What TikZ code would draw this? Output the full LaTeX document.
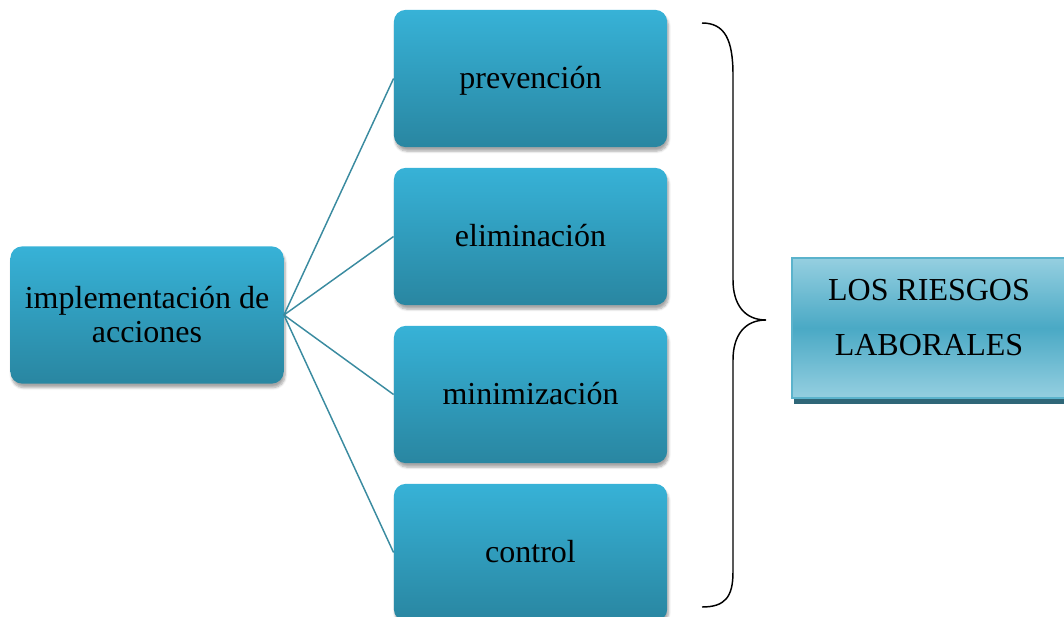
\documentclass[tikz,border=0pt]{standalone}
\usepackage{fontspec}
\setmainfont{Liberation Serif}
\usetikzlibrary{shadows,shadows.blur}

\definecolor{cajaarriba}{HTML}{37B2D7}
\definecolor{cajaabajo}{HTML}{2986A1}
\definecolor{rama}{HTML}{3A8BA0}
\definecolor{riesgoclaro}{HTML}{95CFE0}
\definecolor{riesgomedio}{HTML}{4AA9C5}
\definecolor{riesgoborde}{HTML}{5BB3CC}
\definecolor{riesgosombra}{HTML}{2F6778}

\begin{document}
\begin{tikzpicture}[x=0.75pt, y=-0.75pt]
	\tikzstyle{accion} = [ rectangle, rounded corners=9pt, minimum width=205pt, minimum height=103pt, top color=cajaarriba, bottom color=cajaabajo, align=center, font={\fontsize{24}{25.5}\selectfont}, blur shadow={shadow xshift=1pt, shadow yshift=-3pt, shadow blur steps=6, shadow opacity=35} ];
	\tikzstyle{paso} = [ accion, text height=17pt, text depth=2pt ];
	\tikzstyle{riesgo} = [ rectangle, draw=riesgoborde, line width=1.5pt, top color=riesgoclaro, bottom color=riesgoclaro, middle color=riesgomedio, minimum width=205pt, minimum height=105pt, align=center, font={\fontsize{24}{41}\selectfont}, drop shadow={shadow xshift=1.5pt, shadow yshift=-4.5pt, fill=riesgosombra, opacity=1} ];
	\tikzstyle{ramal} = [ -, draw=rama, line width=1.1pt ];
	\tikzstyle{llave} = [ draw=black, line width=1.1pt ];

	\useasboundingbox (0,0) rectangle (1064,617);

	\node[accion] (impl) at (147,315) {implementación de\\acciones};

	\def \pasos {prevención,eliminación,minimización,control}

	\foreach \p [count=\pi] in \pasos {
		\pgfmathparse{78.5+158*(\pi-1)}
		\let \py \pgfmathresult
		\node[paso] (p\pi) at (530.5,\py) {\p};
		\draw[ramal] (impl.east) -- (p\pi.west);
	}

	% llave grande hacia el recuadro
	\draw[llave] (702,23) .. controls (725,23) and (733,40) .. (733,75) -- (733,280)
		.. controls (733,305) and (745,320) .. (766,320)
		.. controls (745,320) and (733,335) .. (733,360) -- (733,572)
		.. controls (733,597) and (725,607) .. (702,607);

	\node[riesgo] (riesgos) at (929,328) {LOS RIESGOS\\LABORALES\rule[-16pt]{0pt}{16pt}};

\end{tikzpicture}
\end{document}
